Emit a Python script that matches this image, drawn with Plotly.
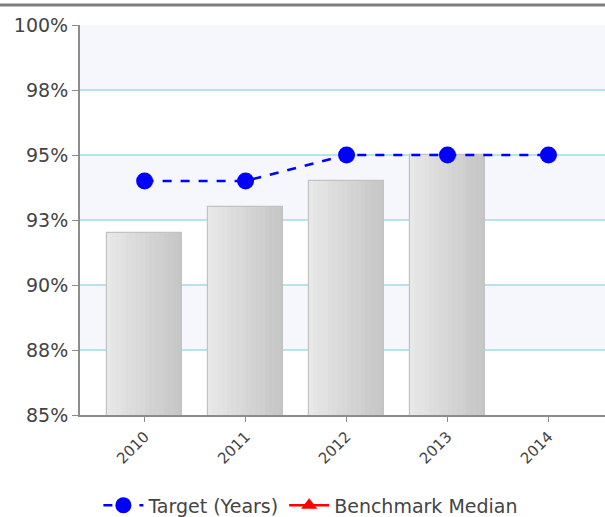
import plotly.graph_objects as go

years = ["2010", "2011", "2012", "2013", "2014"]
actual = [92.0, 93.0, 94.0, 95.0, None]
target = [94.0, 94.0, 95.0, 95.0, 95.0]
benchmark = [None, None, None, None, None]
y_ticks = [85, 87.5, 90, 92.5, 95, 97.5, 100]
y_tick_labels = ["85%", "88%", "90%", "93%", "95%", "98%", "100%"]

fig = go.Figure()

# gradient bars via narrow strips
n = 16
bw = 0.75
c0 = (232, 232, 232)
c1 = (198, 198, 198)
for i in range(n):
    t = i / (n - 1)
    col = "rgb(%d,%d,%d)" % tuple(int(c0[k] + (c1[k] - c0[k]) * t) for k in range(3))
    fig.add_trace(go.Bar(
        x=years, y=actual, width=bw / n, offset=-bw / 2 + i * bw / n,
        marker=dict(color=col, line=dict(width=0)), showlegend=False, hoverinfo="skip"))
fig.add_trace(go.Bar(
    x=years, y=actual, width=bw, offset=-bw / 2,
    marker=dict(color="rgba(0,0,0,0)", line=dict(color="#c2c2c2", width=1.2)),
    showlegend=False, name="Actual"))

fig.add_trace(go.Scatter(
    x=years, y=target, mode="lines+markers", name="Target (Years)",
    line=dict(color="#0000ff", width=2.5, dash="dash"),
    marker=dict(color="#0000ff", size=17, symbol="circle")))
fig.add_trace(go.Scatter(
    x=years, y=benchmark, mode="lines+markers", name="Benchmark Median",
    line=dict(color="#ff0000", width=2.5),
    marker=dict(color="#ff0000", size=14, symbol="triangle-up")))

shapes = []
for j in range(len(y_ticks) - 1):
    if (len(y_ticks) - 2 - j) % 2 == 0:
        shapes.append(dict(type="rect", xref="paper", yref="y", x0=0, x1=1,
                           y0=y_ticks[j], y1=y_ticks[j + 1],
                           fillcolor="#f5f7fd", line=dict(width=0), layer="below"))
shapes.append(dict(type="line", xref="paper", yref="paper", x0=-0.2, x1=1.05,
                   y0=1.051, y1=1.051, line=dict(color="#7f7f7f", width=3)))
fig.update_layout(shapes=shapes)

fig.update_layout(
    width=605, height=517,
    margin=dict(l=80, r=0, t=25, b=102, autoexpand=False),
    paper_bgcolor="white", plot_bgcolor="white",
    barmode="overlay", bargap=0,
    font=dict(family="DejaVu Sans", size=13, color="#444444"),
    showlegend=True,
    legend=dict(orientation="h", x=0.035, y=-0.183,
                yanchor="top", xanchor="left",
                font=dict(size=19, color="#444444"), itemwidth=40,
                bgcolor="rgba(0,0,0,0)"),
    xaxis=dict(type="category", range=[-0.64, 4.56], showgrid=False,
               showline=True, linecolor="#8c8c8c", linewidth=2,
               ticks="outside", ticklen=5, tickcolor="#8c8c8c", tickangle=-45,
               tickfont=dict(size=15, color="#444444"), zeroline=False,
               automargin=False),
    yaxis=dict(range=[85, 100], tickvals=y_ticks, ticktext=y_tick_labels,
               showgrid=True, gridcolor="#b7e3ea", gridwidth=2,
               showline=True, linecolor="#8c8c8c", linewidth=2,
               ticks="outside", ticklen=6, tickcolor="#8c8c8c",
               tickfont=dict(size=19, color="#444444"), zeroline=False,
               automargin=False),
)

fig.write_html("out.html", config={"displayModeBar": False},
               post_script="document.body.style.margin='0';")
